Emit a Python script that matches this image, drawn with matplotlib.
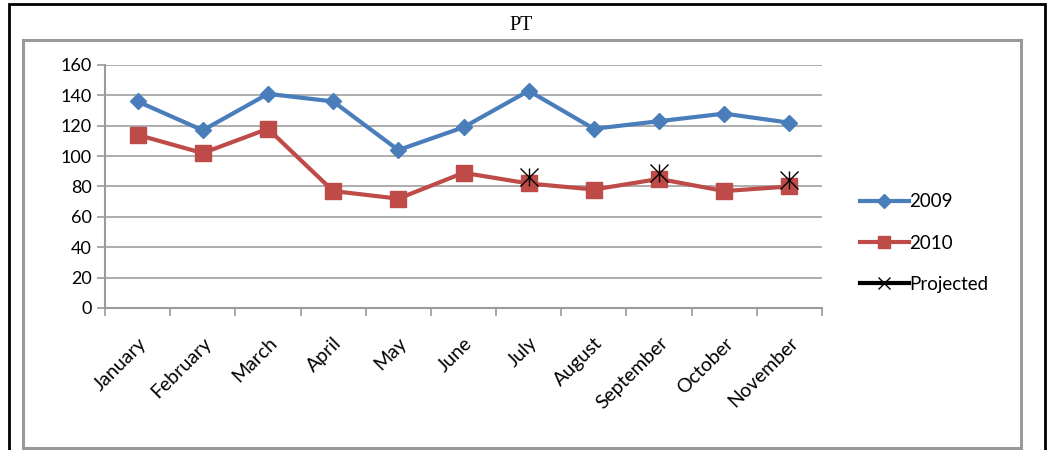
import numpy as np
import matplotlib.pyplot as plt
from matplotlib.patches import Rectangle
from matplotlib.lines import Line2D

months = ['January', 'February', 'March', 'April', 'May', 'June', 'July',
          'August', 'September', 'October', 'November']
pt_2009 = [136, 117, 141, 136, 104, 119, 143, 118, 123, 128, 122]
pt_2010 = [114, 102, 118, 77, 72, 89, 82, 78, 85, 77, 80]
projected = [np.nan, np.nan, np.nan, np.nan, np.nan, np.nan, 86,
             np.nan, 89, np.nan, 84]

W, H = 1048, 450
fig = plt.figure(figsize=(W / 100, H / 100), dpi=100)

# frames: outer black, inner gray
fig.patches.append(Rectangle((9 / W, -0.05), 1036 / W, 1.05 - 4 / H,
                             transform=fig.transFigure, fill=False,
                             edgecolor='black', lw=2))
fig.patches.append(Rectangle((23 / W, 1 - 448 / H), 998 / W, 408 / H,
                             transform=fig.transFigure, fill=False,
                             edgecolor='#9a9a9a', lw=2.2))

fig.text(521 / W, 1 - 25 / H, 'PT', ha='center', va='center',
         family='Liberation Serif', fontsize=14.5)

ax = fig.add_axes([105 / W, 1 - 308 / H, 717 / W, 243 / H])
x = np.arange(len(months))
ax.plot(x, pt_2009, color='#4a7ebb', lw=3, marker='D', ms=8,
        label='2009', zorder=3)
ax.plot(x, pt_2010, color='#be4b48', lw=3, marker='s', ms=11,
        label='2010', zorder=3)
ax.plot(x, projected, color='black', marker='x', ms=13, mew=1,
        linestyle='none', zorder=4)
ax.plot(x, projected, color='black', marker='|', ms=13, mew=1,
        linestyle='none', zorder=4)

ax.set_xlim(-0.5, len(months) - 0.5)
ax.set_ylim(0, 160)
ax.set_yticks(range(0, 161, 20))
ax.set_xticks(np.arange(-0.5, len(months), 1))
ax.set_xticklabels([])
ax.set_xticks(x, minor=True)
ax.set_xticklabels(months, minor=True, rotation=45, ha='right',
                   rotation_mode='anchor', family='Lato', fontsize=14)
ax.tick_params(axis='x', which='minor', length=0, pad=19)
ax.tick_params(axis='x', which='major', length=6, color='#9a9a9a', width=1.2)
ax.tick_params(axis='y', length=6, color='#9a9a9a', width=1.2,
               labelsize=13)
for lab in ax.get_yticklabels():
    lab.set_family('Lato')
ax.grid(axis='y', color='#a0a0a0', lw=1.2)
ax.set_axisbelow(True)
for s in ['top', 'right']:
    ax.spines[s].set_visible(False)
for s in ['left', 'bottom']:
    ax.spines[s].set_color('#9a9a9a')
    ax.spines[s].set_linewidth(1.5)

handles = [
    Line2D([], [], color='#4a7ebb', lw=3, marker='D', ms=7),
    Line2D([], [], color='#be4b48', lw=3, marker='s', ms=9),
    Line2D([], [], color='black', lw=3, marker='x', ms=9, mew=1),
]
fig.legend(handles, ['2009', '2010', 'Projected'],
           loc='center left', bbox_to_anchor=(843 / W, 1 - 243 / H),
           frameon=False, prop={'family': 'Lato', 'size': 13.5},
           handlelength=2.6, handletextpad=0.05, labelspacing=1.3)

fig.savefig('out.png', dpi=100)
